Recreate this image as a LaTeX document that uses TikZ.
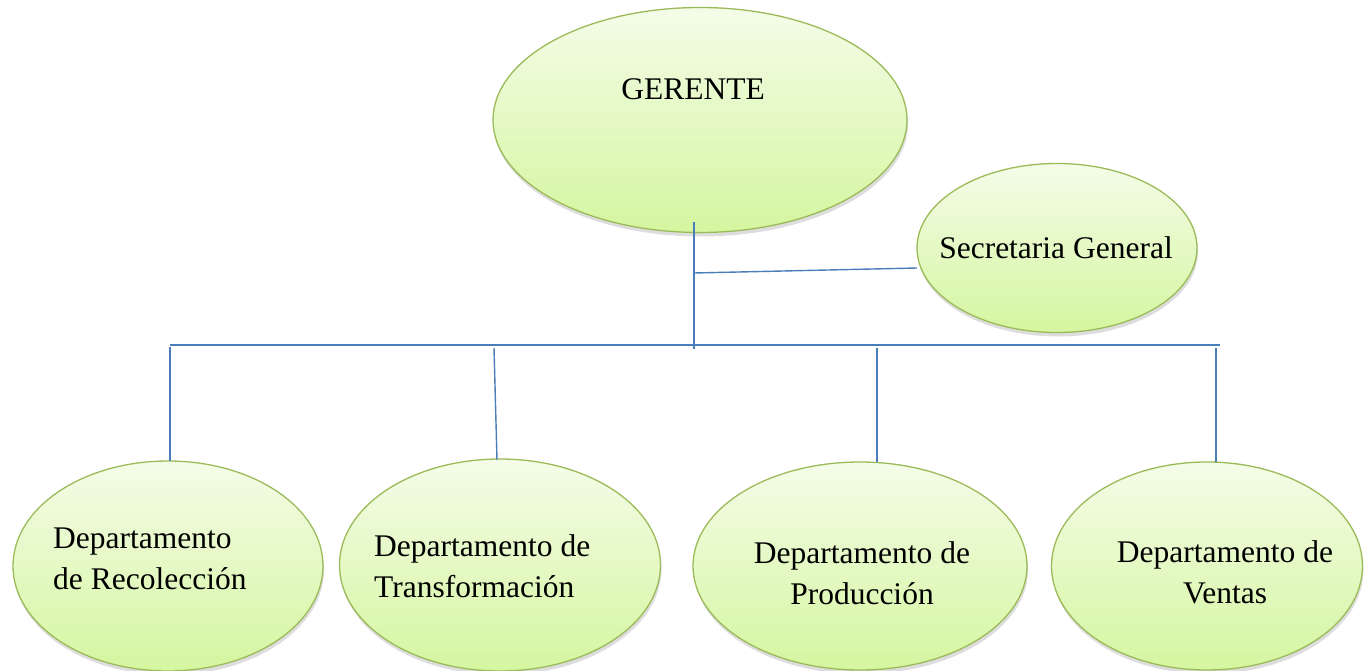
\documentclass[tikz,border=0pt]{standalone}
\usepackage{fontspec}
\setmainfont{Liberation Serif}
\usetikzlibrary{shapes.geometric,shadows}
\definecolor{bordergreen}{HTML}{9BBB59}
\definecolor{topg}{HTML}{F4FCE8}
\definecolor{botg}{HTML}{D5F6A0}
\definecolor{lineblue}{HTML}{4A7EBB}
\begin{document}
\begin{tikzpicture}[x=1pt,y=-1pt,
  oval/.style={ellipse, draw=bordergreen, line width=1.3pt, top color=topg, bottom color=botg,
    inner sep=0pt, drop shadow={opacity=0.22, shadow xshift=1pt, shadow yshift=-4pt, fill=black!60}},
  lbl/.style={font=\fontsize{31.5}{41}\selectfont, inner sep=0pt},
  conn/.style={draw=lineblue, line width=1.4pt}]
\useasboundingbox[fill=white] (0,0) rectangle (1369,671);

% ellipses
\node[oval, minimum width=414pt, minimum height=225pt] (ger) at (700,120) {};
\node[oval, minimum width=280pt, minimum height=169pt] (sec) at (1057,248) {};
\node[oval, minimum width=310pt, minimum height=210pt] (rec) at (168,566) {};
\node[oval, minimum width=321pt, minimum height=212pt] (tra) at (500,565) {};
\node[oval, minimum width=334pt, minimum height=208pt] (pro) at (860,566) {};
\node[oval, minimum width=311pt, minimum height=208pt] (ven) at (1207,566) {};

% texts
\node[lbl] (gert) at (693,89) {GERENTE};
\node[lbl] (sect) at (1056,248) {Secretaria General};
\node[lbl, align=left, anchor=west] (rect) at (53,559) {Departamento\\de Recolección};
\node[lbl, align=left, anchor=west] (trat) at (374,566) {Departamento de\\Transformación};
\node[lbl, align=center] (prot) at (862,573) {Departamento de\\Producción};
\node[lbl, align=center] (vent) at (1225,572) {Departamento de\\Ventas};

% connector points
\coordinate (g1) at (694,222);
\coordinate (g2) at (694,349);
\coordinate (gs) at (694,273);
\coordinate (s1) at (917,268);
\coordinate (b1) at (170,345);
\coordinate (b2) at (1220,345);
\coordinate (d1) at (170,347);
\coordinate (d2) at (494,348);
\coordinate (d3) at (877,348);
\coordinate (d4) at (1216,348);
\coordinate (e1) at (170,461);
\coordinate (e2) at (497,460);
\coordinate (e3) at (877,462);
\coordinate (e4) at (1216,462);

\draw[conn] (g1) -- (g2);
\draw[conn] (gs) -- (s1);
\draw[conn] (b1) -- (b2);
\draw[conn] (d1) -- (e1);
\draw[conn] (d2) -- (e2);
\draw[conn] (d3) -- (e3);
\draw[conn] (d4) -- (e4);
\end{tikzpicture}
\end{document}
